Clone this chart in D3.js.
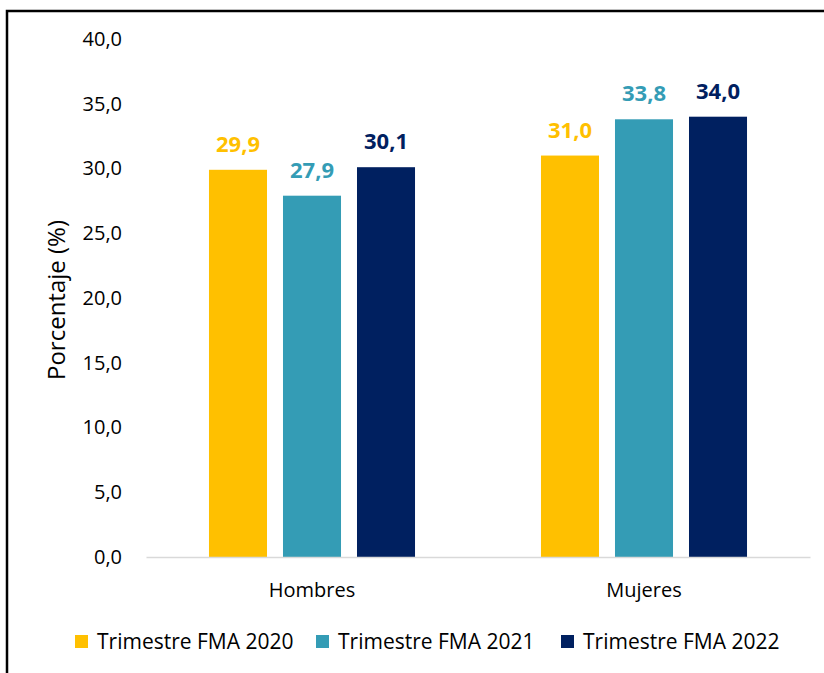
<!DOCTYPE html>
<html>
<head>
<meta charset="utf-8">
<script src="https://cdn.jsdelivr.net/npm/d3@7"></script>
<style>
	body { margin: 0; background: #fff; }
	svg { display: block; font-family: "Open Sans", sans-serif; }
</style>
</head>
<body>
<script>
var categories = ["Hombres", "Mujeres"];
var series = ["Trimestre FMA 2020", "Trimestre FMA 2021", "Trimestre FMA 2022"];
var colors = ["#FFC000", "#349CB5", "#002060"];
var values2020 = [29.9, 31.0];
var values2021 = [27.9, 33.8];
var values2022 = [30.1, 34.0];
var yTicks = [0, 5, 10, 15, 20, 25, 30, 35, 40];

var width = 824;
var height = 673;
var allValues = [values2020, values2021, values2022];

var es = d3.formatLocale({ decimal: ",", thousands: ".", grouping: [3], currency: ["", ""] });
var fmt = es.format(".1f");

var svg = d3.select("body").append("svg")
	.attr("width", width)
	.attr("height", height);

// frame (left and top edges visible)
svg.append("path")
	.attr("d", "M7," + height + "V11H" + width)
	.attr("fill", "none")
	.attr("stroke", "#000")
	.attr("stroke-width", 2.5);

var x0 = d3.scaleBand().domain(categories).range([146, 810]);
var x1 = d3.scaleBand().domain(series).range([0, x0.bandwidth()])
	.paddingInner(0.216).paddingOuter(0.851);
var y = d3.scaleLinear().domain([0, 40]).range([557, 39]);

// y tick labels
var yAxis = svg.append("g").attr("transform", "translate(122,0)")
	.call(d3.axisLeft(y).tickValues(yTicks).tickFormat(fmt).tickSize(0).tickPadding(0));
yAxis.select(".domain").remove();
yAxis.selectAll("text")
	.attr("font-family", "'Open Sans', sans-serif")
	.attr("font-size", 20)
	.attr("fill", "#000");

// y axis title
svg.append("text")
	.attr("transform", "translate(65," + (y(20) + 2) + ") rotate(-90)")
	.attr("text-anchor", "middle")
	.attr("font-size", 24)
	.attr("fill", "#000")
	.text("Porcentaje (%)");

// bars
var groups = svg.selectAll(".grp").data(categories).enter().append("g")
	.attr("class", "grp")
	.attr("transform", function(d) { return "translate(" + x0(d) + ",0)"; });

series.forEach(function(s, si) {
	groups.append("rect")
		.attr("x", x1(s))
		.attr("y", function(d, i) { return y(allValues[si][i]); })
		.attr("width", x1.bandwidth())
		.attr("height", function(d, i) { return y(0) - y(allValues[si][i]); })
		.attr("fill", colors[si]);
	groups.append("text")
		.attr("x", x1(s) + x1.bandwidth() / 2)
		.attr("y", function(d, i) { return y(allValues[si][i]) - 18; })
		.attr("text-anchor", "middle")
		.attr("font-size", 22)
		.attr("font-weight", "bold")
		.attr("fill", colors[si])
		.text(function(d, i) { return fmt(allValues[si][i]); });
});

// x axis
var xAxis = svg.append("g").attr("transform", "translate(0," + y(0) + ")")
	.call(d3.axisBottom(x0).tickSize(0).tickPadding(0));
xAxis.select(".domain").attr("stroke", "#D9D9D9").attr("stroke-width", 1.5);
xAxis.selectAll("text")
	.attr("y", 40)
	.attr("dy", null)
	.attr("font-family", "'Open Sans', sans-serif")
	.attr("font-size", 20)
	.attr("fill", "#000");

// legend
var legendX = [75, 316, 561];
var legend = svg.selectAll(".leg").data(series).enter().append("g")
	.attr("class", "leg")
	.attr("transform", function(d, i) { return "translate(" + legendX[i] + ",635)"; });
legend.append("rect")
	.attr("width", 13).attr("height", 13)
	.attr("fill", function(d, i) { return colors[i]; });
legend.append("text")
	.attr("x", 22).attr("y", 14)
	.attr("font-size", 21)
	.attr("fill", "#000")
	.text(function(d) { return d; });
</script>
</body>
</html>
